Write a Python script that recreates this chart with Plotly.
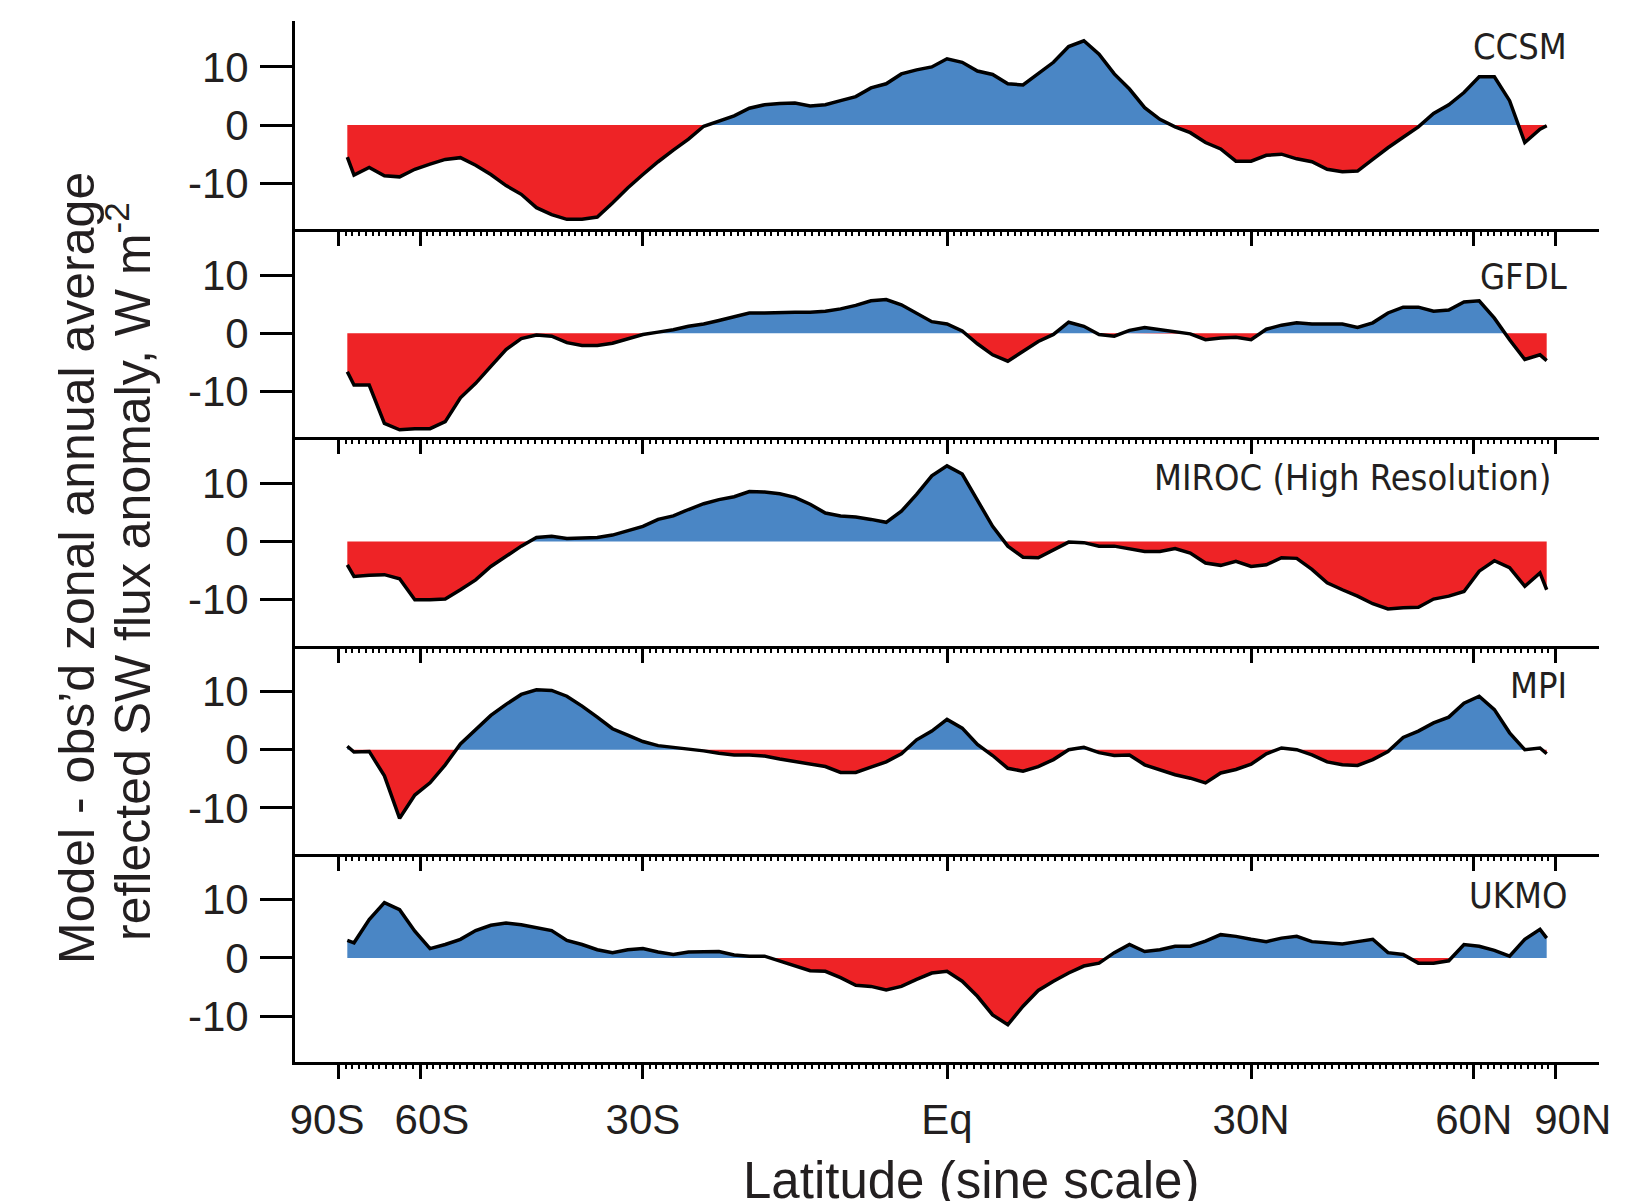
import numpy as np
import plotly.graph_objects as go
from plotly.subplots import make_subplots

# x positions: sine of latitude
sin_lat = [-0.986, -0.975, -0.95, -0.925, -0.9, -0.875, -0.85, -0.825, -0.8, -0.775,
           -0.75, -0.725, -0.7, -0.675, -0.65, -0.625, -0.6, -0.575, -0.55, -0.525,
           -0.5, -0.475, -0.45, -0.425, -0.4, -0.375, -0.35, -0.325, -0.3, -0.275,
           -0.25, -0.225, -0.2, -0.175, -0.15, -0.125, -0.1, -0.075, -0.05, -0.025,
           0.0, 0.025, 0.05, 0.075, 0.1, 0.125, 0.15, 0.175, 0.2, 0.225,
           0.25, 0.275, 0.3, 0.325, 0.35, 0.375, 0.4, 0.425, 0.45, 0.475,
           0.5, 0.525, 0.55, 0.575, 0.6, 0.625, 0.65, 0.675, 0.7, 0.725,
           0.75, 0.775, 0.8, 0.825, 0.85, 0.875, 0.9, 0.925, 0.95, 0.975, 0.986]

ccsm = [-5.5, -8.6, -7.3, -8.7, -8.9, -7.6, -6.7, -5.9, -5.6, -6.9,
        -8.5, -10.4, -11.9, -14.2, -15.4, -16.2, -16.2, -15.8, -13.4, -10.8,
        -8.5, -6.3, -4.3, -2.4, -0.2, 0.7, 1.6, 2.9, 3.5, 3.7,
        3.8, 3.3, 3.5, 4.2, 4.9, 6.4, 7.1, 8.8, 9.5, 10.0,
        11.4, 10.8, 9.3, 8.7, 7.1, 6.9, 8.9, 10.8, 13.5, 14.5,
        12.2, 8.8, 6.2, 3.0, 1.0, -0.3, -1.3, -3.0, -4.1, -6.2,
        -6.2, -5.2, -5.0, -5.8, -6.3, -7.6, -8.0, -7.9, -5.9, -3.9,
        -2.1, -0.3, 2.0, 3.5, 5.6, 8.3, 8.3, 4.2, -3.0, -0.7, -0.1]

gfdl = [-6.6, -8.9, -8.9, -15.5, -16.6, -16.4, -16.4, -15.2, -11.1, -8.6,
        -5.7, -2.8, -0.9, -0.3, -0.5, -1.6, -2.1, -2.1, -1.7, -0.9,
        -0.2, 0.2, 0.6, 1.2, 1.6, 2.2, 2.9, 3.5, 3.5, 3.6,
        3.6, 3.6, 3.8, 4.2, 4.8, 5.6, 5.8, 4.9, 3.4, 2.0,
        1.6, 0.4, -1.8, -3.7, -4.8, -3.1, -1.4, -0.2, 1.9, 1.2,
        -0.2, -0.5, 0.5, 1.0, 0.6, 0.3, -0.1, -1.1, -0.8, -0.7,
        -1.1, 0.7, 1.4, 1.8, 1.6, 1.6, 1.6, 1.0, 1.8, 3.5,
        4.5, 4.5, 3.8, 4.0, 5.4, 5.6, 2.6, -1.1, -4.5, -3.7, -4.7]

miroc = [-4.0, -6.0, -5.8, -5.7, -6.4, -10.0, -10.0, -9.9, -8.3, -6.6,
         -4.3, -2.5, -0.8, 0.7, 0.9, 0.5, 0.6, 0.7, 1.1, 1.8,
         2.6, 3.8, 4.4, 5.5, 6.5, 7.2, 7.7, 8.6, 8.5, 8.2,
         7.6, 6.4, 4.9, 4.4, 4.2, 3.8, 3.3, 5.2, 8.1, 11.3,
         13.0, 11.6, 7.2, 2.6, -0.8, -2.7, -2.8, -1.4, -0.1, -0.2,
         -0.8, -0.8, -1.2, -1.7, -1.7, -1.2, -2.0, -3.7, -4.1, -3.4,
         -4.3, -4.0, -2.8, -2.9, -4.8, -7.1, -8.3, -9.4, -10.7, -11.6,
         -11.4, -11.3, -9.9, -9.4, -8.6, -5.1, -3.3, -4.5, -7.7, -5.4, -8.3]

mpi = [0.6, -0.4, -0.3, -4.5, -11.8, -7.8, -5.7, -2.6, 1.0, 3.4,
       5.9, 7.8, 9.5, 10.3, 10.2, 9.2, 7.5, 5.6, 3.6, 2.5,
       1.4, 0.7, 0.4, 0.2, -0.2, -0.6, -0.9, -0.9, -1.1, -1.6,
       -2.0, -2.5, -2.9, -3.9, -3.9, -3.0, -2.1, -0.7, 1.7, 3.2,
       5.2, 3.7, 0.9, -1.0, -3.2, -3.7, -2.9, -1.7, 0.0, 0.4,
       -0.5, -1.0, -0.9, -2.6, -3.4, -4.3, -4.9, -5.7, -4.0, -3.4,
       -2.5, -0.7, 0.3, 0.0, -0.9, -2.1, -2.6, -2.7, -1.7, -0.3,
       2.1, 3.2, 4.6, 5.6, 8.0, 9.2, 6.9, 2.9, 0.0, 0.3, -0.7]

ukmo = [3.0, 2.6, 6.6, 9.5, 8.3, 4.6, 1.6, 2.3, 3.2, 4.7,
        5.6, 6.0, 5.7, 5.2, 4.7, 3.0, 2.3, 1.4, 0.9, 1.4,
        1.6, 1.0, 0.6, 1.0, 1.0, 1.1, 0.5, 0.3, 0.3, -0.5,
        -1.4, -2.2, -2.3, -3.4, -4.7, -4.9, -5.5, -4.9, -3.7, -2.6,
        -2.3, -4.0, -6.6, -9.8, -11.5, -8.3, -5.6, -4.0, -2.6, -1.4,
        -0.9, 0.9, 2.3, 1.1, 1.4, 2.0, 2.0, 2.9, 4.0, 3.7,
        3.2, 2.8, 3.4, 3.7, 2.8, 2.6, 2.4, 2.8, 3.2, 0.9,
        0.6, -0.9, -0.9, -0.5, 2.3, 2.0, 1.3, 0.3, 3.2, 4.9, 3.4]

models = ["CCSM", "GFDL", "MIROC (High Resolution)", "MPI", "UKMO"]
series = [ccsm, gfdl, miroc, mpi, ukmo]

tick_lat = [-90, -60, -30, 0, 30, 60, 90]
tick_text = ["90S\u00a0\u00a0", "\u00a0\u00a060S", "30S", "Eq", "30N", "60N", "\u00a0\u00a0\u00a090N"]
y_ticks = [-10, 0, 10]

BLUE = "#4a86c5"
RED = "#ee2326"
TXT = "#231f20"

# page offset from the default body margin of the html page
OFF = 8
W, H = 1627 - OFF, 1201 - OFF
ML, MT = 295 - OFF, 21 - OFF
PW, PH = 1304, 1041
MR, MB = W - ML - PW, H - MT - PH


def px2x(px):
    return (px - OFF - ML) / PW


def py2y(py):
    return (MT + PH - (py - OFF)) / PH


def split_zero(x, y):
    xs, ys = [x[0]], [y[0]]
    for i in range(1, len(x)):
        y0, y1 = y[i - 1], y[i]
        if y0 * y1 < 0:
            xs.append(x[i - 1] + (x[i] - x[i - 1]) * (-y0) / (y1 - y0))
            ys.append(0.0)
        xs.append(x[i])
        ys.append(y[i])
    return np.array(xs), np.array(ys)


fig = make_subplots(rows=5, cols=1, shared_xaxes=True, vertical_spacing=0)

for i, y in enumerate(series, start=1):
    xx, yy = split_zero(sin_lat, y)
    fig.add_trace(go.Scatter(x=xx, y=np.maximum(yy, 0), mode="lines", fill="tozeroy",
                             fillcolor=BLUE, line=dict(width=0), hoverinfo="skip",
                             showlegend=False), row=i, col=1)
    fig.add_trace(go.Scatter(x=xx, y=np.minimum(yy, 0), mode="lines", fill="tozeroy",
                             fillcolor=RED, line=dict(width=0), hoverinfo="skip",
                             showlegend=False), row=i, col=1)
    fig.add_trace(go.Scatter(x=sin_lat, y=y, mode="lines",
                             line=dict(color="black", width=3.5), showlegend=False),
                  row=i, col=1)

tick_pos = np.sin(np.radians(tick_lat))
minor_pos = np.linspace(-1, 1, 181)

fig.update_xaxes(range=[-1.072, 1.072], showline=True, linewidth=3, linecolor="black",
                 ticks="outside", ticklen=14, tickwidth=3, tickcolor="black",
                 tickmode="array", tickvals=tick_pos, ticktext=tick_text,
                 showgrid=False, zeroline=False, automargin=False, tickangle=0,
                 ticklabeloverflow="allow",
                 minor=dict(tickmode="array", tickvals=minor_pos, ticks="outside",
                            ticklen=4, tickwidth=1.5, tickcolor="black", showgrid=False),
                 tickfont=dict(family="Liberation Sans, Arial, sans-serif", size=42, color=TXT))
fig.update_xaxes(showticklabels=True, ticklabelstandoff=5, row=5, col=1)

fig.update_yaxes(range=[-17.9, 17.9], showline=True, linewidth=3, linecolor="black",
                 ticks="outside", ticklen=32, tickwidth=3, tickcolor="black",
                 tickmode="array", tickvals=y_ticks, ticktext=[str(v) for v in y_ticks],
                 showgrid=False, zeroline=False, automargin=False, ticklabelstandoff=3,
                 tickfont=dict(family="Liberation Sans, Arial, sans-serif", size=42, color=TXT))

label_pos = [(1569, 47), (1569, 276), (1553, 478), (1569, 685), (1569, 896)]
for name, (lx, ly) in zip(models, label_pos):
    fig.add_annotation(text=name, xref="paper", yref="paper", x=px2x(lx), y=py2y(ly),
                       xanchor="right", yanchor="middle", showarrow=False,
                       font=dict(family="Liberation Sans Narrow, DejaVu Sans Condensed, Arial",
                                 size=36, color=TXT))

tfont = dict(family="Liberation Sans, Arial, sans-serif", size=50, color=TXT)
fig.add_annotation(text="Model - obs\u2019d zonal annual average", xref="paper", yref="paper",
                   x=px2x(77), y=py2y(568), textangle=-90, showarrow=False,
                   xanchor="center", yanchor="middle", font=tfont)
fig.add_annotation(text="reflected SW flux anomaly, W m<sup>-2</sup>", xref="paper", yref="paper",
                   x=px2x(129), y=py2y(572), textangle=-90, showarrow=False,
                   xanchor="center", yanchor="middle", font=tfont)
fig.add_annotation(text="Latitude (sine scale)", xref="paper", yref="paper",
                   x=px2x(971), y=py2y(1180), showarrow=False,
                   xanchor="center", yanchor="middle",
                   font=dict(family="Liberation Sans, Arial, sans-serif", size=51, color=TXT))

fig.update_layout(width=W, height=H, margin=dict(l=ML, r=MR, t=MT, b=MB, autoexpand=False),
                  paper_bgcolor="white", plot_bgcolor="white", showlegend=False)

fig.write_html("out.html")
